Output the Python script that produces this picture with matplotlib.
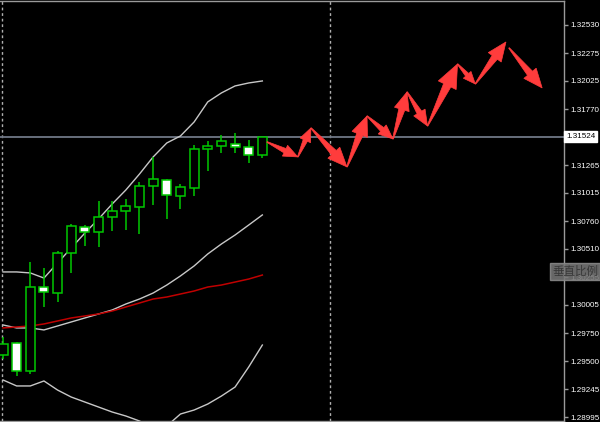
import matplotlib
matplotlib.use("Agg")
import matplotlib.pyplot as plt
from matplotlib.patches import Rectangle, Polygon
import numpy as np

# ---------------- data ----------------
opens  = [1.29554, 1.29662, 1.29410, 1.30167, 1.30113, 1.30474, 1.30708, 1.30663, 1.30799, 1.30853,
          1.30889, 1.31078, 1.31132, 1.30988, 1.31060, 1.31412, 1.31439, 1.31457, 1.31430, 1.31358]
highs  = [1.29716, 1.29671, 1.30393, 1.30339, 1.30492, 1.30735, 1.30726, 1.30943, 1.30943, 1.30961,
          1.31114, 1.31340, 1.31141, 1.31096, 1.31448, 1.31484, 1.31538, 1.31556, 1.31493, 1.31524]
lows   = [1.29518, 1.29365, 1.29383, 1.29987, 1.30032, 1.30294, 1.30537, 1.30528, 1.30672, 1.30681,
          1.30645, 1.30907, 1.30781, 1.30871, 1.30988, 1.31213, 1.31376, 1.31376, 1.31286, 1.31331]
closes = [1.29653, 1.29410, 1.30167, 1.30122, 1.30474, 1.30717, 1.30663, 1.30799, 1.30853, 1.30898,
          1.31078, 1.31141, 1.30997, 1.31069, 1.31412, 1.31439, 1.31484, 1.31430, 1.31358, 1.31524]

bb_upper = [1.30303, 1.30303, 1.30294, 1.30248, 1.30384, 1.30519, 1.30654, 1.30781, 1.30916, 1.31042,
            1.31186, 1.31340, 1.31466, 1.31529, 1.31655, 1.31836, 1.31917, 1.31980, 1.32007, 1.32025]
bb_middle = [1.29825, 1.29798, 1.29798, 1.29780, 1.29816, 1.29852, 1.29888, 1.29924, 1.29960, 1.30014,
             1.30059, 1.30113, 1.30185, 1.30267, 1.30357, 1.30465, 1.30555, 1.30636, 1.30726, 1.30817]
bb_lower = [1.29329, 1.29275, 1.29275, 1.29320, 1.29238, 1.29175, 1.29130, 1.29085, 1.29040, 1.29004,
            1.28959, 1.28896, 1.28914, 1.29022, 1.29058, 1.29112, 1.29184, 1.29265, 1.29446, 1.29644]
ma_red = [1.29798, 1.29807, 1.29816, 1.29834, 1.29861, 1.29888, 1.29906, 1.29924, 1.29951, 1.29987,
          1.30023, 1.30059, 1.30077, 1.30104, 1.30131, 1.30167, 1.30185, 1.30212, 1.30239, 1.30275]

# forecast arrows (bar index, price): start -> end
arrow_x0 = [19.34, 21.60, 22.56, 25.20, 26.67, 28.57, 29.60, 31.10, 33.30, 34.60, 37.07]
arrow_y0 = [1.31475, 1.31340, 1.31601, 1.31250, 1.31709, 1.31502, 1.31926, 1.31619, 1.32178, 1.31998, 1.32323]
arrow_x1 = [21.60, 22.56, 25.20, 26.67, 28.57, 29.60, 31.10, 33.30, 34.60, 36.85, 39.50]
arrow_y1 = [1.31340, 1.31601, 1.31250, 1.31709, 1.31502, 1.31926, 1.31619, 1.32178, 1.31998, 1.32377, 1.31962]

tick_values = [1.32530, 1.32275, 1.32025, 1.31770, 1.31265, 1.31015, 1.30760, 1.30510,
               1.30255, 1.30005, 1.29750, 1.29500, 1.29245, 1.28995]
current_price = 1.31524
separators = [-0.07, 23.96]
button_text = "垂直比例"

# ---------------- figure ----------------
W, H = 600, 422
fig = plt.figure(figsize=(W / 100, H / 100), dpi=100, facecolor="black")
ax = fig.add_axes([0, 1 / H, 564 / W, 420 / H], facecolor="black")

ax.set_xlim(-0.22, 41.1)
ax.set_ylim(1.28959, 1.32746)

grid_col = "#9a9a9a"
for s in ["top", "right", "bottom"]:
    ax.spines[s].set_color(grid_col)
    ax.spines[s].set_linewidth(1.0)
ax.spines["left"].set_visible(False)

# separators
for sx in separators:
    ax.axvline(sx, color="#b0b0b0", lw=1.0, ls=(0, (2, 2)), zorder=1)

# current price line
ax.axhline(current_price, color="#6f7785", lw=1.3, zorder=1)

xs = np.arange(len(opens))
# bands
ax.plot(xs, bb_upper, color="#c8c8c8", lw=1.0, zorder=2)
ax.plot(xs, bb_middle, color="#c8c8c8", lw=1.0, zorder=2)
ax.plot(xs, bb_lower, color="#c8c8c8", lw=1.0, zorder=2)
ax.plot(xs, ma_red, color="#c00000", lw=1.1, zorder=2)

# candles
green = "#00c800"
bw = 0.66
for i, (o, h, l, c) in enumerate(zip(opens, highs, lows, closes)):
    top, bot = max(o, c), min(o, c)
    ax.plot([i, i], [top, h], color=green, lw=1.1, zorder=3, solid_capstyle="butt")
    ax.plot([i, i], [l, bot], color=green, lw=1.1, zorder=3, solid_capstyle="butt")
    fill = "black" if c >= o else "white"
    ax.add_patch(Rectangle((i - bw / 2, bot), bw, max(top - bot, 1e-6),
                           facecolor=fill, edgecolor=green, lw=1.1, zorder=4))

# arrows
fig.canvas.draw()
tr = ax.transData
inv = tr.inverted()
for x0, y0, x1, y1 in zip(arrow_x0, arrow_y0, arrow_x1, arrow_y1):
    p0 = tr.transform((x0, y0))
    p1 = tr.transform((x1, y1))
    d = p1 - p0
    L = np.hypot(*d)
    u = d / L
    n = np.array([-u[1], u[0]])
    hl = 0.27 * L + 5
    hw = 0.42 * hl
    bw1 = 0.17 * hl
    b = p1 - u * hl
    pts = [p0 + n * 0.4, b + n * bw1, b + n * hw, p1, b - n * hw, b - n * bw1, p0 - n * 0.4]
    pts = inv.transform(np.array(pts))
    ax.add_patch(Polygon(pts, closed=True, facecolor="#ff3c3c", edgecolor="#ff3c3c",
                         lw=0.5, zorder=5))

# y axis on right
lab_font = "Liberation Sans"
ax.yaxis.tick_right()
ax.set_yticks(tick_values)
ax.set_yticklabels([f"{v:.5f}" for v in tick_values], family=lab_font)
ax.tick_params(axis="y", colors=grid_col, length=3, width=1, pad=1.5, labelsize=5.8,
               labelcolor="white")
ax.set_xticks([])

# current price label
ax.text(1.0035, current_price, f"{current_price:.5f}", transform=ax.get_yaxis_transform(),
        ha="left", va="center", fontsize=5.8, color="black", family=lab_font,
        bbox=dict(boxstyle="square,pad=0.25", facecolor="white", edgecolor="white"),
        zorder=10, clip_on=False)

# button
fig.text(575 / W, 1 - 271.5 / H, button_text, ha="center", va="center", fontsize=8.3,
         color="#383838", family=["Noto Sans CJK SC", "DejaVu Sans"],
         bbox=dict(boxstyle="square,pad=0.2", facecolor="#767676", edgecolor="#8a8a8a",
                   alpha=0.88), zorder=20)

fig.savefig("out.png", dpi=100, facecolor="black")
